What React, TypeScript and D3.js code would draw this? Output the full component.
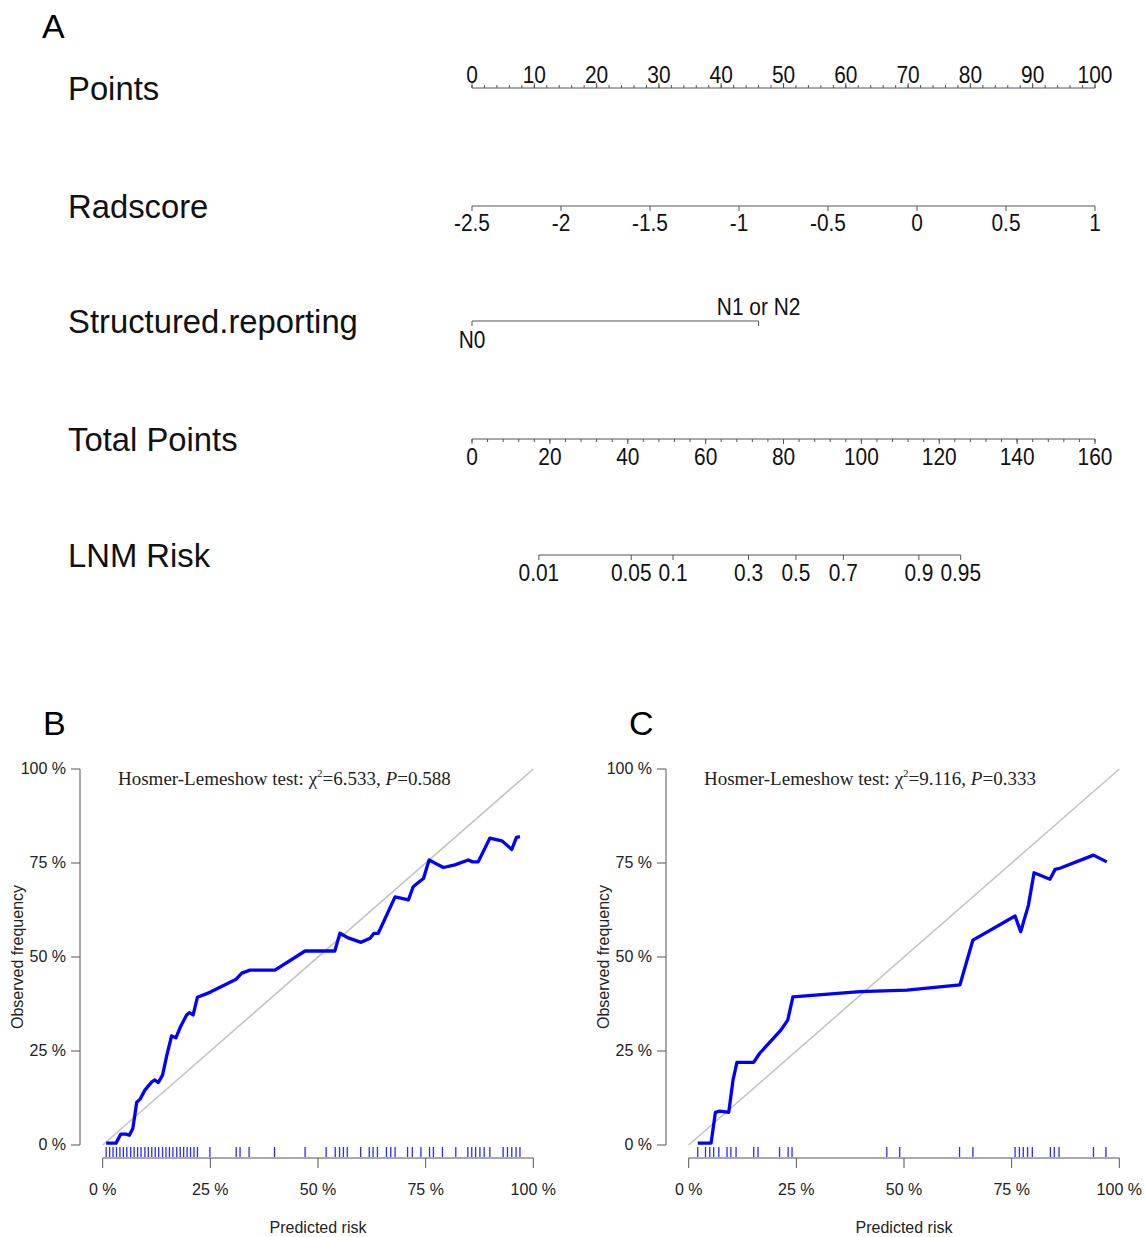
import * as d3 from 'd3';

// ---- nomogram (panel A) ----
const rowLabels = ['Points', 'Radscore', 'Structured.reporting', 'Total Points', 'LNM Risk'];
const pointsTicks = [0, 10, 20, 30, 40, 50, 60, 70, 80, 90, 100];
const radscoreTicks = [-2.5, -2, -1.5, -1, -0.5, 0, 0.5, 1];
const reportingLevels = ['N0', 'N1 or N2'];
const reportingPoints = [0, 46];
const totalPointsTicks = [0, 20, 40, 60, 80, 100, 120, 140, 160];
const riskTicks = [0.01, 0.05, 0.1, 0.3, 0.5, 0.7, 0.9, 0.95];
const riskLabels = ['0.01', '0.05', '0.1', '0.3', '0.5', '0.7', '0.9', '0.95'];
// total points where risk = 0.5 and logit slope per total point
const tpAtHalf = 83.2;
const logitSlope = 0.0696;

// ---- calibration, training set (panel B) ----
const trainPredicted = [0.8, 3.1, 4.2, 5.4, 6.2, 7.0, 7.9, 8.7, 9.8, 11.4, 12.1, 12.9, 13.9, 14.9, 16.0, 17.0, 18.0, 19.5, 20.1, 21.0, 22.0, 24.9, 31.0, 32.3, 34.2, 40.0, 47.0, 53.9, 55.1, 57.0, 60.0, 62.1, 63.0, 64.0, 67.9, 71.0, 72.1, 73.3, 74.5, 75.8, 79.1, 81.8, 84.9, 85.9, 87.2, 89.9, 92.7, 95.0, 96.1, 96.9];
const trainObserved = [0.5, 0.5, 2.9, 2.9, 2.6, 4.4, 11.4, 12.2, 14.6, 16.8, 17.3, 16.6, 18.6, 23.9, 29.0, 28.5, 31.3, 34.6, 35.2, 34.6, 39.3, 40.6, 44.1, 45.7, 46.5, 46.5, 51.6, 51.6, 56.3, 55.1, 53.9, 55.0, 56.3, 56.3, 66.0, 65.2, 68.7, 69.8, 70.9, 75.8, 73.8, 74.5, 75.8, 75.3, 75.3, 81.6, 80.9, 78.6, 81.8, 82.0];
const trainRug = [0.8, 1.6, 2.4, 3.2, 4.0, 4.8, 5.6, 6.5, 7.3, 8.1, 8.9, 9.8, 10.6, 11.4, 12.2, 13.0, 13.9, 14.7, 15.5, 16.3, 17.2, 18.0, 18.8, 19.6, 20.4, 21.2, 22.0, 24.9, 31.0, 31.9, 34.0, 39.9, 47.0, 51.9, 54.0, 55.0, 55.9, 56.8, 59.9, 61.9, 62.8, 63.8, 65.9, 66.9, 67.9, 70.8, 71.9, 73.9, 75.9, 76.8, 78.9, 82.0, 84.8, 85.7, 86.6, 87.6, 88.6, 89.9, 93.0, 94.0, 95.0, 96.0, 96.9];

// ---- calibration, validation set (panel C) ----
const validPredicted = [2.1, 5.2, 6.2, 7.2, 9.3, 10.3, 11.2, 15.1, 16.5, 21.3, 23.0, 24.2, 39.8, 50.7, 63.0, 66.0, 75.8, 77.1, 78.9, 80.2, 83.9, 85.1, 86.2, 94.0, 97.1];
const validObserved = [0.5, 0.5, 8.7, 9.0, 8.7, 17.3, 22.0, 22.0, 24.4, 30.4, 33.2, 39.4, 40.8, 41.2, 42.6, 54.5, 60.9, 56.7, 63.8, 72.4, 70.7, 73.3, 73.6, 77.1, 75.3];
const validRug = [2.1, 3.9, 4.9, 5.8, 7.0, 8.9, 9.8, 11.0, 15.1, 16.1, 21.1, 23.1, 24.0, 46.0, 49.0, 62.9, 66.0, 75.8, 76.8, 77.7, 78.7, 79.8, 84.0, 84.9, 86.0, 94.0, 96.9];

const pctTicks = [0, 25, 50, 75, 100];

const SANS = '"Liberation Sans", Arial, sans-serif';
const SERIF = '"Liberation Serif", "Times New Roman", serif';
const AXIS = '#555';

// narrow, tall tick labels like the R device output
function TickLabel({ x, y, children }: { x: number; y: number; children: any }) {
  return (
    <text transform={`translate(${x},${y}) scale(0.87,1)`} textAnchor="middle" fontFamily={SANS} fontSize={24} fill="#111">
      {children}
    </text>
  );
}

function Nomogram() {
  const pts = d3.scaleLinear().domain([0, 100]).range([472, 1095]);
  const rad = d3.scaleLinear().domain([-2.5, 1]).range([pts(0), pts(100)]);
  const total = d3.scaleLinear().domain([0, 160]).range([472, 1095]);
  const riskToTotal = (p: number) => tpAtHalf + Math.log(p / (1 - p)) / logitSlope;
  const rowY = [88, 206, 321, 439, 555];
  const minorPts = d3.range(0, 101, 2);
  const minorTotal = d3.range(0, 161, 4);

  return (
    <g>
      <text x={42} y={38} fontFamily={SANS} fontSize={34}>A</text>
      {rowLabels.map((l, i) => (
        <text key={l} x={68} y={rowY[i] + 12} fontFamily={SANS} fontSize={32.8} fill="#111">{l}</text>
      ))}

      {/* Points */}
      <line x1={pts(0)} x2={pts(100)} y1={rowY[0]} y2={rowY[0]} stroke={AXIS} />
      {minorPts.map(v => (
        <line key={v} x1={pts(v)} x2={pts(v)} y1={rowY[0]} y2={rowY[0] - 3} stroke={AXIS} />
      ))}
      {pointsTicks.map(v => (
        <g key={v}>
          <line x1={pts(v)} x2={pts(v)} y1={rowY[0]} y2={rowY[0] - 5} stroke={AXIS} />
          <TickLabel x={pts(v)} y={rowY[0] - 5}>{v}</TickLabel>
        </g>
      ))}

      {/* Radscore */}
      <line x1={rad(-2.5)} x2={rad(1)} y1={rowY[1]} y2={rowY[1]} stroke={AXIS} />
      {radscoreTicks.map(v => (
        <g key={v}>
          <line x1={rad(v)} x2={rad(v)} y1={rowY[1]} y2={rowY[1] + 5} stroke={AXIS} />
          <TickLabel x={rad(v)} y={rowY[1] + 25}>{v}</TickLabel>
        </g>
      ))}

      {/* Structured.reporting */}
      <line x1={pts(reportingPoints[0])} x2={pts(reportingPoints[1])} y1={rowY[2]} y2={rowY[2]} stroke={AXIS} />
      {reportingPoints.map((v, i) => (
        <g key={v}>
          <line x1={pts(v)} x2={pts(v)} y1={rowY[2]} y2={rowY[2] + 5} stroke={AXIS} />
          <TickLabel x={pts(v)} y={i === 0 ? rowY[2] + 27 : rowY[2] - 6}>{reportingLevels[i]}</TickLabel>
        </g>
      ))}

      {/* Total Points */}
      <line x1={total(0)} x2={total(160)} y1={rowY[3]} y2={rowY[3]} stroke={AXIS} />
      {minorTotal.map(v => (
        <line key={v} x1={total(v)} x2={total(v)} y1={rowY[3]} y2={rowY[3] + 3} stroke={AXIS} />
      ))}
      {totalPointsTicks.map(v => (
        <g key={v}>
          <line x1={total(v)} x2={total(v)} y1={rowY[3]} y2={rowY[3] + 5} stroke={AXIS} />
          <TickLabel x={total(v)} y={rowY[3] + 26}>{v}</TickLabel>
        </g>
      ))}

      {/* LNM Risk */}
      <line x1={total(riskToTotal(riskTicks[0]))} x2={total(riskToTotal(riskTicks[riskTicks.length - 1]))} y1={rowY[4]} y2={rowY[4]} stroke={AXIS} />
      {riskTicks.map((v, i) => (
        <g key={v}>
          <line x1={total(riskToTotal(v))} x2={total(riskToTotal(v))} y1={rowY[4]} y2={rowY[4] + 5} stroke={AXIS} />
          <TickLabel x={total(riskToTotal(v))} y={rowY[4] + 26}>{riskLabels[i]}</TickLabel>
        </g>
      ))}
    </g>
  );
}

interface CalProps {
  letter: string;
  left: number;
  predicted: number[];
  observed: number[];
  rug: number[];
  chi2: string;
  p: string;
}

function CalibrationPanel({ letter, left, predicted, observed, rug, chi2, p }: CalProps) {
  const x = d3.scaleLinear().domain([0, 100]).range([left + 22.7, left + 453.3]);
  const y = d3.scaleLinear().domain([0, 100]).range([1145, 769]);
  const y0 = y(0);
  const line = d3.line<number>()
    .x((_, i) => x(predicted[i]))
    .y(d => y(d));

  return (
    <g>
      <text x={left - 37} y={735} fontFamily={SANS} fontSize={34}>{letter}</text>

      {/* y axis */}
      <line x1={left} x2={left} y1={y(0)} y2={y(100)} stroke={AXIS} />
      {pctTicks.map(v => (
        <g key={v}>
          <line x1={left - 9} x2={left} y1={y(v)} y2={y(v)} stroke={AXIS} />
          <text x={left - 14} y={y(v) + 5} textAnchor="end" fontFamily={SANS} fontSize={16} fill="#222">{v} %</text>
        </g>
      ))}
      <text transform={`translate(${left - 57},${(y(0) + y(100)) / 2}) rotate(-90)`} textAnchor="middle" fontFamily={SANS} fontSize={16} fill="#222">Observed frequency</text>

      {/* x axis */}
      <line x1={x(0)} x2={x(100)} y1={y0 + 13} y2={y0 + 13} stroke={AXIS} />
      {pctTicks.map(v => (
        <g key={v}>
          <line x1={x(v)} x2={x(v)} y1={y0 + 13} y2={y0 + 23} stroke={AXIS} />
          <text x={x(v)} y={y0 + 50} textAnchor="middle" fontFamily={SANS} fontSize={16} fill="#222">{v} %</text>
        </g>
      ))}
      <text x={(x(0) + x(100)) / 2} y={y0 + 88} textAnchor="middle" fontFamily={SANS} fontSize={16} fill="#222">Predicted risk</text>

      {/* ideal line */}
      <line x1={x(0)} y1={y(0)} x2={x(100)} y2={y(100)} stroke="#c4c4c4" strokeWidth={1.6} />

      {/* rug */}
      {rug.map((v, i) => (
        <line key={i} x1={x(v)} x2={x(v)} y1={y0 + 2} y2={y0 + 12} stroke="#2a2aff" strokeWidth={1.3} />
      ))}

      {/* calibration curve */}
      <path d={line(observed) ?? ''} fill="none" stroke="#0000ff" strokeWidth={3.3} strokeLinejoin="round" />

      <text x={left + 38} y={785} fontFamily={SERIF} fontSize={19} fill="#222">
        Hosmer-Lemeshow test: χ<tspan dy={-8} fontSize={11}>2</tspan><tspan dy={8}>={chi2}, </tspan><tspan fontStyle="italic">P</tspan>={p}
      </text>
    </g>
  );
}

export default function App() {
  return (
    <div style={{ position: 'absolute', left: 0, top: 0 }}>
      <svg width={1146} height={1237} style={{ display: 'block', background: '#fff' }}>
        <Nomogram />
        <CalibrationPanel letter="B" left={80} predicted={trainPredicted} observed={trainObserved} rug={trainRug} chi2="6.533" p="0.588" />
        <CalibrationPanel letter="C" left={666} predicted={validPredicted} observed={validObserved} rug={validRug} chi2="9.116" p="0.333" />
      </svg>
    </div>
  );
}
